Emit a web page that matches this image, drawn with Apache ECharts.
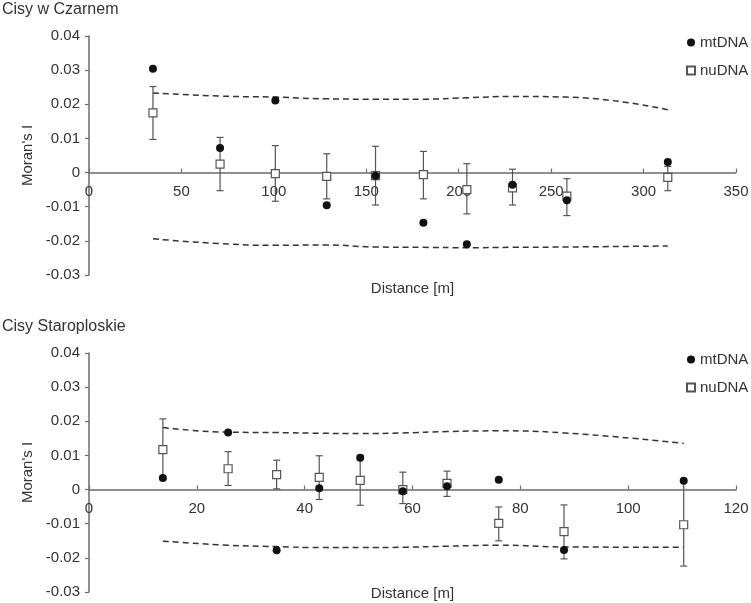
<!DOCTYPE html>
<html>
<head>
<meta charset="utf-8">
<script src="https://cdn.jsdelivr.net/npm/echarts@6/dist/echarts.min.js"></script>
<style>html,body{margin:0;padding:0;background:#fff}#c{width:751px;height:603px}</style>
</head>
<body>
<div id="c"></div>
<script>
// ---- Data: Cisy w Czarnem ----
var topDist  = [34.6, 70.9, 100.8, 128.6, 155.0, 180.9, 204.4, 229.1, 258.5, 313.1];
var topMt    = [0.0304, 0.0072, 0.0211, -0.0096, -0.0009, -0.0147, -0.0210, -0.0036, -0.0081, 0.0031];
var topNu    = [0.0175, 0.0025, -0.0003, -0.0011, -0.0009, -0.0006, -0.0050, -0.0045, -0.0069, -0.0014];
var topNuHi  = [0.0252, 0.0103, 0.0079, 0.0055, 0.0077, 0.0062, 0.0026, 0.0010, -0.0018, 0.0018];
var topNuLo  = [0.0097, -0.0053, -0.0084, -0.0077, -0.0095, -0.0077, -0.0121, -0.0095, -0.0126, -0.0053];
var topUpper = [0.0233, 0.0224, 0.0221, 0.0216, 0.0215, 0.0215, 0.0219, 0.0223, 0.0221, 0.0184];
var topLower = [-0.0194, -0.0208, -0.0213, -0.0212, -0.0218, -0.0219, -0.0220, -0.0219, -0.0218, -0.0215];
var topXTicks = {min: 0, max: 350, interval: 50};

// ---- Data: Cisy Staroploskie ----
var botDist  = [13.7, 25.8, 34.8, 42.7, 50.3, 58.2, 66.4, 76.0, 88.1, 110.3];
var botMt    = [0.0034, 0.0167, -0.0178, 0.0004, 0.0093, -0.0005, 0.0010, 0.0029, -0.0177, 0.0026];
var botNu    = [0.0117, 0.0061, 0.0044, 0.0036, 0.0027, 0.0000, 0.0018, -0.0099, -0.0123, -0.0103];
var botNuHi  = [0.0207, 0.0111, 0.0086, 0.0099, 0.0100, 0.0051, 0.0054, -0.0051, -0.0045, 0.0029];
var botNuLo  = [0.0030, 0.0012, 0.0002, -0.0029, -0.0046, -0.0041, -0.0020, -0.0150, -0.0203, -0.0224];
var botUpper = [0.0182, 0.0168, 0.0167, 0.0165, 0.0164, 0.0166, 0.0170, 0.0172, 0.0166, 0.0135];
var botLower = [-0.0151, -0.0163, -0.0167, -0.0170, -0.0170, -0.0169, -0.0166, -0.0163, -0.0168, -0.0169];
var botXTicks = {min: 0, max: 120, interval: 20};

var yTicks = {min: -0.03, max: 0.04, interval: 0.01};
var titles = ['Cisy w Czarnem', 'Cisy Staroploskie'];
var names = ['mtDNA', 'nuDNA'];

function zip(a, b) { return a.map(function (v, i) { return [v, b[i]]; }); }
function zip3(a, b, c) { return a.map(function (v, i) { return [v, b[i], c[i]]; }); }

var FONT = '"Liberation Sans", Arial, sans-serif';
var TXT = '#333';
var AX = '#6b6b6b';
var GRID_H = 239;
// distance of the zero line above the grid bottom (x axis sits on y = 0)
var zeroOffset = -GRID_H * (0 - yTicks.min) / (yTicks.max - yTicks.min);

function errRender(params, api) {
  var x = api.value(0), lo = api.value(1), hi = api.value(2);
  var p1 = api.coord([x, hi]), p2 = api.coord([x, lo]);
  var w = 3.5;
  var st = {stroke: '#555', lineWidth: 1.2};
  return {type: 'group', children: [
    {type: 'line', shape: {x1: p1[0], y1: p1[1], x2: p2[0], y2: p2[1]}, style: st},
    {type: 'line', shape: {x1: p1[0] - w, y1: p1[1], x2: p1[0] + w, y2: p1[1]}, style: st},
    {type: 'line', shape: {x1: p2[0] - w, y1: p2[1], x2: p2[0] + w, y2: p2[1]}, style: st}
  ]};
}

function xAxisDef(idx, ticks, gap) {
  return {
    type: 'value', gridIndex: idx, min: ticks.min, max: ticks.max, interval: ticks.interval,
    position: 'bottom', offset: zeroOffset,
    name: 'Distance [m]', nameLocation: 'middle', nameGap: gap,
    nameTextStyle: {fontFamily: FONT, fontSize: 15, color: TXT},
    axisLine: {onZero: false, lineStyle: {color: AX, width: 1.5}},
    axisTick: {inside: true, length: 4, lineStyle: {color: AX, width: 1.2}},
    axisLabel: {fontFamily: FONT, fontSize: 15, color: TXT, margin: 12},
    splitLine: {show: false}
  };
}
function yAxisDef(idx) {
  return {
    type: 'value', gridIndex: idx, min: yTicks.min, max: yTicks.max, interval: yTicks.interval,
    name: "Moran's I", nameLocation: 'middle', nameGap: 47,
    nameTextStyle: {fontFamily: FONT, fontSize: 15, color: TXT},
    axisLine: {show: true, onZero: false, lineStyle: {color: AX, width: 1.5}},
    axisTick: {show: true, length: 4, lineStyle: {color: AX, width: 1.2}},
    axisLabel: {fontFamily: FONT, fontSize: 15, color: TXT, margin: 9,
      formatter: function (v) { return String(+v.toFixed(2)); }},
    splitLine: {show: false}
  };
}

function seriesFor(idx, dist, mt, nu, hi, lo, up, low) {
  var dash = {color: '#333', width: 1.5, type: [6, 4]};
  return [
    {type: 'line', name: 'upper', xAxisIndex: idx, yAxisIndex: idx, data: zip(dist, up),
     smooth: true, showSymbol: false, symbol: 'none', lineStyle: dash, silent: true, z: 1},
    {type: 'line', name: 'lower', xAxisIndex: idx, yAxisIndex: idx, data: zip(dist, low),
     smooth: true, showSymbol: false, symbol: 'none', lineStyle: dash, silent: true, z: 1},
    {type: 'custom', name: 'err', xAxisIndex: idx, yAxisIndex: idx, data: zip3(dist, lo, hi),
     renderItem: errRender, encode: {x: 0, y: [1, 2]}, z: 2, silent: true},
    {type: 'scatter', name: 'nuDNA', xAxisIndex: idx, yAxisIndex: idx, data: zip(dist, nu),
     symbol: 'rect', symbolSize: 8,
     itemStyle: {color: '#fff', borderColor: '#555', borderWidth: 1.2, opacity: 1}, z: 3},
    {type: 'scatter', name: 'mtDNA', xAxisIndex: idx, yAxisIndex: idx, data: zip(dist, mt),
     symbol: 'circle', symbolSize: 8, itemStyle: {color: '#111', opacity: 1}, z: 4}
  ];
}

function legendDef(top) {
  return {
    orient: 'vertical', left: 681, top: top, itemWidth: 8, itemHeight: 8, itemGap: 13,
    data: names, selectedMode: false,
    textStyle: {fontFamily: FONT, fontSize: 15, color: TXT}
  };
}

var chart = echarts.init(document.getElementById('c'), null, {renderer: 'canvas'});
chart.setOption({
  animation: false,
  backgroundColor: '#fff',
  title: [
    {text: titles[0], left: 0, top: 1, textStyle: {fontFamily: FONT, fontSize: 16, fontWeight: 'normal', color: TXT}, padding: [1, 2]},
    {text: titles[1], left: 0, top: 318, textStyle: {fontFamily: FONT, fontSize: 16, fontWeight: 'normal', color: TXT}, padding: [1, 2]}
  ],
  legend: [legendDef(30), legendDef(347)],
  grid: [
    {left: 89, top: 36, width: 647, height: GRID_H, containLabel: false, outerBoundsMode: 'none'},
    {left: 89, top: 353, width: 647, height: GRID_H, containLabel: false, outerBoundsMode: 'none'}
  ],
  xAxis: [xAxisDef(0, topXTicks, 109), xAxisDef(1, botXTicks, 97)],
  yAxis: [yAxisDef(0), yAxisDef(1)],
  series: [].concat(
    seriesFor(0, topDist, topMt, topNu, topNuHi, topNuLo, topUpper, topLower),
    seriesFor(1, botDist, botMt, botNu, botNuHi, botNuLo, botUpper, botLower)
  )
});
</script>
</body>
</html>
